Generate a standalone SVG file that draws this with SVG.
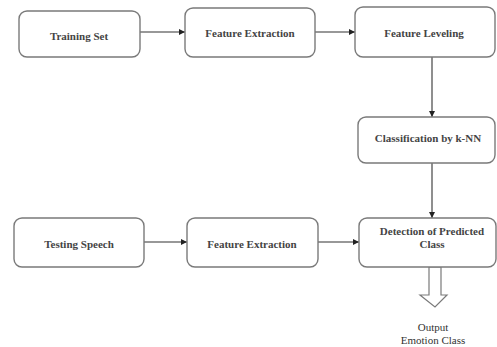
<svg xmlns="http://www.w3.org/2000/svg" width="497" height="347" viewBox="0 0 497 347">
  <style>
    .box { fill: #ffffff; stroke: #7a7a7a; stroke-width: 1.4; }
    .lbl { font-family: "Liberation Serif", "DejaVu Serif", "Times New Roman", serif; font-size: 11px; font-weight: bold; fill: #444444; text-anchor: middle; }
    .out { font-weight: normal; fill: #333333; }
    .conn { stroke: #333333; stroke-width: 1.1; fill: none; marker-end: url(#head); }
    .fat { fill: #ffffff; stroke: #7a7a7a; stroke-width: 1.2; }
  </style>
  <defs>
    <marker id="head" viewBox="0 0 10 10" refX="10" refY="5" markerWidth="6" markerHeight="6" markerUnits="userSpaceOnUse" orient="auto">
      <path d="M0,0 L10,5 L0,10 Z" fill="#222222"/>
    </marker>
  </defs>
  <rect width="497" height="347" fill="#ffffff"/>

  <g id="connectors">
    <line class="conn" x1="140" y1="32" x2="185" y2="32"/>
    <line class="conn" x1="315" y1="32" x2="355" y2="32"/>
    <line class="conn" x1="432" y1="57" x2="432" y2="117"/>
    <line class="conn" x1="432" y1="163" x2="432" y2="218"/>
    <line class="conn" x1="144" y1="242" x2="187" y2="242"/>
    <line class="conn" x1="318" y1="242" x2="359" y2="242"/>
    <!-- hollow output arrow -->
    <path class="fat" d="M429,267 L441,267 L441,295 L447,295 L435,307 L420,295 L429,295 Z"/>
  </g>

  <g id="training-set">
    <rect class="box" x="19" y="11" width="121" height="46" rx="8"/>
    <text class="lbl" x="79" y="40">Training Set</text>
  </g>
  <g id="feature-extraction-1">
    <rect class="box" x="185" y="8" width="130" height="49" rx="8"/>
    <text class="lbl" x="250" y="37">Feature Extraction</text>
  </g>
  <g id="feature-leveling">
    <rect class="box" x="355" y="7" width="140" height="50" rx="8"/>
    <text class="lbl" x="424" y="37">Feature Leveling</text>
  </g>
  <g id="classification">
    <rect class="box" x="358" y="117" width="137" height="46" rx="8"/>
    <text class="lbl" x="428" y="142">Classification by k-NN</text>
  </g>
  <g id="testing-speech">
    <rect class="box" x="14" y="218" width="130" height="49" rx="8"/>
    <text class="lbl" x="79" y="248">Testing Speech</text>
  </g>
  <g id="feature-extraction-2">
    <rect class="box" x="187" y="218" width="131" height="49" rx="8"/>
    <text class="lbl" x="252" y="248">Feature Extraction</text>
  </g>
  <g id="detection">
    <rect class="box" x="359" y="218" width="137" height="49" rx="8"/>
    <text class="lbl" x="432" y="235">Detection of Predicted</text>
    <text class="lbl" x="432" y="248">Class</text>
  </g>
  <g id="output">
    <text class="lbl out" x="433" y="331">Output</text>
    <text class="lbl out" x="433" y="344">Emotion Class</text>
  </g>
</svg>
